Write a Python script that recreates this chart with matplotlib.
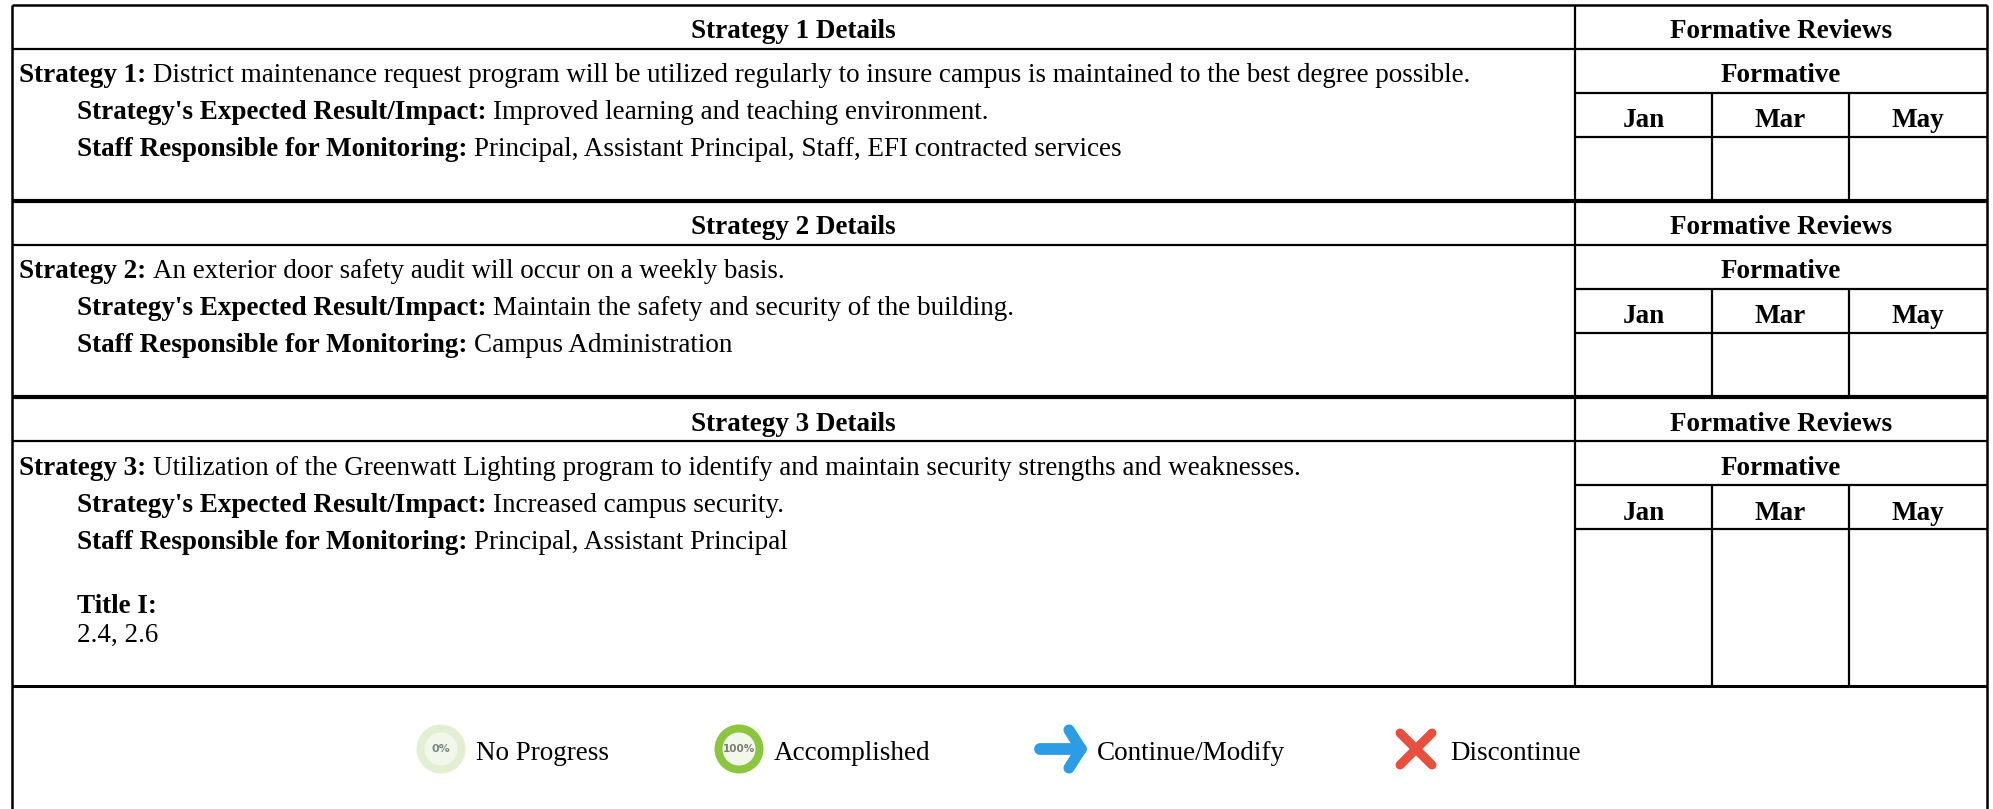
import matplotlib.pyplot as plt
from matplotlib.patches import Circle

plt.rcParams['font.family'] = ['Liberation Serif', 'DejaVu Sans']

# text of the three strategy blocks
strategy_titles = ['Strategy 1 Details', 'Strategy 2 Details', 'Strategy 3 Details']
strategy_labels = ['Strategy 1:', 'Strategy 2:', 'Strategy 3:']
strategy_texts = [
    'District maintenance request program will be utilized regularly to insure campus is maintained to the best degree possible.',
    'An exterior door safety audit will occur on a weekly basis.',
    'Utilization of the Greenwatt Lighting program to identify and maintain security strengths and weaknesses.',
]
impacts = [
    'Improved learning and teaching environment.',
    'Maintain the safety and security of the building.',
    'Increased campus security.',
]
staff = [
    'Principal, Assistant Principal, Staff, EFI contracted services',
    'Campus Administration',
    'Principal, Assistant Principal',
]
months = ['Jan', 'Mar', 'May']
legend_labels = ['No Progress', 'Accomplished', 'Continue/Modify', 'Discontinue']

# top of each block / bottom of each block, in pixels
block_tops = [5, 201, 397]
block_bottoms = [201, 397, 686]
text_shift = [1, 1, 2]
x_left, x_split, x_right = 12, 1575, 1987
x_months = [1712, 1849]
FS = 19.5

fig = plt.figure(figsize=(19.93, 8.09), dpi=100)
ax = fig.add_axes([0, 0, 1, 1])
ax.set_xlim(0, 1993)
ax.set_ylim(809, 0)
ax.axis('off')


def bold_then_plain(x, y, bold, plain, gap=7, plain_size=FS):
    t = ax.text(x, y, bold, fontsize=FS, fontweight='bold', va='baseline', ha='left')
    bb = t.get_window_extent(fig.canvas.get_renderer())
    ax.text(bb.x1 + gap, y, plain, fontsize=plain_size, va='baseline', ha='left')


def hline(y, x0=x_left, x1=x_right, lw=1.6):
    ax.plot([x0, x1], [y, y], color='black', lw=lw, solid_capstyle='butt')


def vline(x, y0, y1, lw=1.6):
    ax.plot([x, x], [y0, y1], color='black', lw=lw, solid_capstyle='butt')


for i in range(3):
    top, bottom = block_tops[i], block_bottoms[i]
    dy = text_shift[i]
    hline(top + 44)
    hline(top + 88, x_split, x_right)
    hline(top + 132, x_split, x_right)
    vline(x_split, top, bottom)
    for xm in x_months:
        vline(xm, top + 88, bottom)

    ax.text((x_left + x_split) / 2, top + 32 + dy, strategy_titles[i], fontsize=FS, fontweight='bold', ha='center', va='baseline')
    ax.text((x_split + x_right) / 2, top + 32 + dy, 'Formative Reviews', fontsize=FS, fontweight='bold', ha='center', va='baseline')
    ax.text((x_split + x_right) / 2, top + 76 + dy, 'Formative', fontsize=FS, fontweight='bold', ha='center', va='baseline')
    month_edges = [x_split] + x_months + [x_right]
    for j, m in enumerate(months):
        ax.text((month_edges[j] + month_edges[j + 1]) / 2, top + 121 + dy, m, fontsize=FS, fontweight='bold', ha='center', va='baseline')

    bold_then_plain(19, top + 76 + dy, strategy_labels[i], strategy_texts[i], gap=7, plain_size=19.45)
    bold_then_plain(77, top + 113 + dy, "Strategy's Expected Result/Impact:", impacts[i])
    bold_then_plain(77, top + 150 + dy, 'Staff Responsible for Monitoring:', staff[i])

ax.text(77, 613, 'Title I:', fontsize=FS, fontweight='bold', va='baseline', ha='left')
ax.text(77, 642, '2.4, 2.6', fontsize=FS, va='baseline', ha='left')

# outer frame and thick separators, the sheet has no bottom edge
for y in block_bottoms[:-1]:
    hline(y, x_left, x_right, lw=3)
hline(686, lw=2.2)
hline(5, lw=1.8)
vline(x_left, 5, 809, lw=1.8)
vline(x_right, 5, 809, lw=1.8)

# legend icons
cy = 749
ax.add_patch(Circle((441, cy), 24.5, color='#e3efd3', lw=0))
ax.add_patch(Circle((441, cy), 16.5, color='#f2f7ec', lw=0))
ax.text(441, cy, '0%', fontsize=8, color='#7c8a80', ha='center', va='center',
        family='DejaVu Sans', fontweight='bold')
ax.add_patch(Circle((739, cy), 24.5, color='#8cc63f', lw=0))
ax.add_patch(Circle((739, cy), 16.5, color='#f2f7ec', lw=0))
ax.text(739, cy, '100%', fontsize=7.5, color='#7c7c70', ha='center', va='center',
        family='DejaVu Sans', fontweight='bold')

arrow_blue = '#2b9ce6'
ax.plot([1040, 1081], [749, 749], color=arrow_blue, lw=8.5, solid_capstyle='round')
ax.plot([1069, 1081, 1069], [730, 749, 768], color=arrow_blue, lw=8,
        solid_capstyle='round', solid_joinstyle='round')

x_red = '#ea4f3d'
ax.plot([1400, 1432], [733, 765], color=x_red, lw=6.5, solid_capstyle='round')
ax.plot([1432, 1400], [733, 765], color=x_red, lw=6.5, solid_capstyle='round')

for x, lab in zip([476, 774, 1097, 1450], legend_labels):
    ax.text(x, 760, lab, fontsize=FS, ha='left', va='baseline')

plt.savefig('out.png', dpi=100)
